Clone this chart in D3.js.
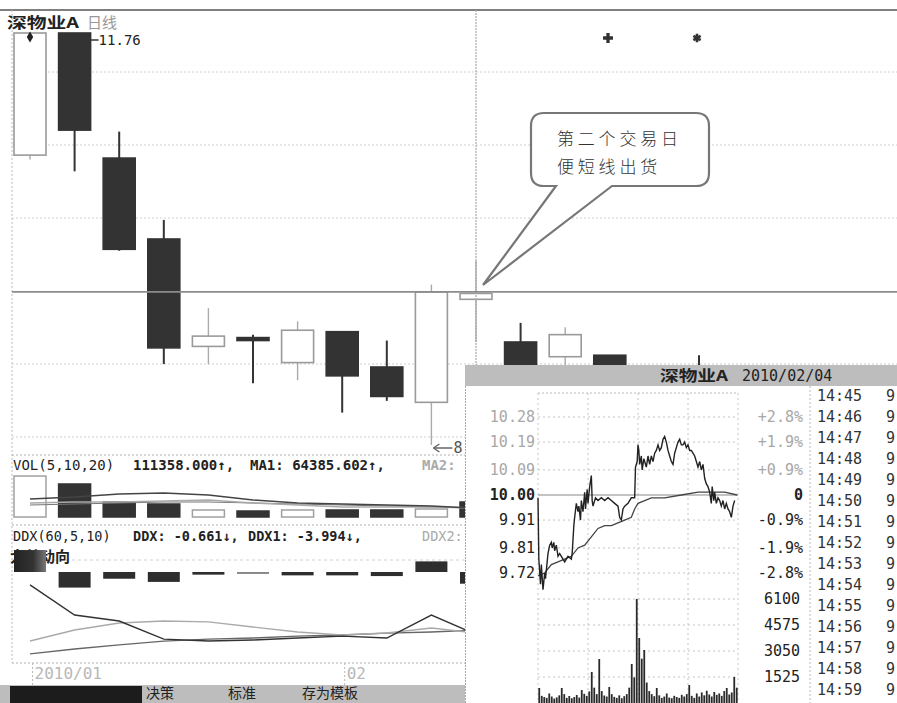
<!DOCTYPE html>
<html><head><meta charset="utf-8">
<script src="https://cdn.jsdelivr.net/npm/d3@7/dist/d3.min.js"></script>
<style>html,body{margin:0;padding:0;background:#fff;overflow:hidden}svg{display:block}</style>
</head><body><svg id="chart" width="897" height="703"></svg>
<script>
// ---------------- DATA ----------------
const stockName = "深物业A";
const periodName = "日线";
const dates  = ["2010/01/21","2010/01/22","2010/01/25","2010/01/26","2010/01/27","2010/01/28","2010/01/29","2010/02/01","2010/02/02","2010/02/03","2010/02/04","2010/02/05","2010/02/08","2010/02/09","2010/02/10","2010/02/11"];
const opens  = [10.93,11.76,10.91,10.36,9.63,9.69,9.52,9.73,9.49,9.25,9.95,9.66,9.56,9.57,9.40,9.48];
const highs  = [11.76,11.76,11.09,10.49,9.89,9.71,9.80,9.73,9.67,10.05,10.21,9.79,9.76,9.57,9.45,9.57];
const lows   = [10.90,10.82,10.28,9.51,9.51,9.38,9.40,9.18,9.26,8.96,9.66,9.45,9.40,9.35,9.25,9.35];
const closes = [11.76,11.10,10.29,9.62,9.70,9.67,9.74,9.43,9.29,10.00,9.99,9.50,9.71,9.45,9.30,9.40];
const highLabel = "11.76";
const lowLabel = "8";

const volumes = [304000,245000,111000,96500,52000,44500,52000,52000,52000,59400,111358];
const volMA1  = [133600,148500,170800,178200,163300,126200,103900,96500,89100,81700,64386];
const volMA2  = [103900,111400,111400,118800,126200,103900,89100,74200,74200,74200,66800];
const volMA3  = [89100,96500,103900,111400,111400,103900,96500,89100,81700,74200,66800];

const ddxBars = [1.24,-0.88,-0.38,-0.56,-0.15,-0.11,-0.19,-0.19,-0.23,0.60,-0.661];
const ddx1 = [-0.73,-2.43,-2.77,-3.79,-3.90,-3.84,-3.73,-3.62,-3.73,-2.43,-3.52];
const ddx2 = [-3.90,-3.28,-2.88,-2.77,-2.82,-3.11,-3.39,-3.56,-3.45,-3.16,-3.45];
const ddx3 = [-4.63,-4.35,-4.12,-3.90,-3.79,-3.73,-3.62,-3.56,-3.45,-3.39,-3.28];

const monthStart  = [0,7];
const monthLabels = ["2010/01","02"];
const toolbarLabels = ["决策","标准","存为模板"];
const calloutLines = ["第二个交易日","便短线出货"];

// intraday (2010/02/04)
const popupDate = "2010/02/04";
const prevClose = 10.00;
const priceTicks = [10.28,10.19,10.09,10.00,9.91,9.81,9.72];
const pctTicks   = ["+2.8%","+1.9%","+0.9%","0","-0.9%","-1.9%","-2.8%"];
const minVolTicks = [6100,4575,3050,1525];
const tickTimes = ["14:45","14:46","14:47","14:48","14:49","14:50","14:51","14:52","14:53","14:54","14:55","14:56","14:57","14:58","14:59"];
const tickPriceHead = "9";
const minutes = [0,1,3,4,6,8,9,11,12,14,16,17,19,20,22,24,26,28,32,36,40,41,43,44,46,48,49,51,52,54,56,57,59,60,62,64,65,66,69,72,76,80,84,88,92,96,98,100,102,104,108,112,116,117,119,120,121,122,124,125,127,128,130,132,134,136,138,140,142,144,146,148,150,152,154,156,158,160,162,164,166,168,170,172,174,176,178,180,182,184,186,188,190,192,194,196,198,200,202,204,206,208,209,211,212,214,216,218,220,222,224,226,228,230,232,234,236];
const prices  = [9.99,9.77,9.68,9.75,9.66,9.72,9.70,9.76,9.79,9.82,9.83,9.81,9.83,9.80,9.82,9.78,9.79,9.78,9.76,9.78,9.77,9.79,9.89,9.92,9.97,9.94,9.96,9.91,9.98,9.94,10.01,9.95,10.02,9.97,10.03,10.07,9.98,9.96,9.99,9.98,9.99,9.98,9.99,9.98,9.97,9.96,9.92,9.91,9.95,9.96,9.97,9.99,9.99,10.10,10.12,10.18,10.16,10.11,10.14,10.09,10.13,10.12,10.10,10.14,10.11,10.14,10.12,10.15,10.16,10.18,10.16,10.17,10.20,10.21,10.19,10.16,10.14,10.12,10.11,10.15,10.17,10.19,10.20,10.18,10.18,10.19,10.17,10.18,10.16,10.16,10.15,10.14,10.12,10.10,10.12,10.09,10.11,10.06,10.04,10.03,10.01,9.97,10.03,9.98,10.01,9.97,9.99,9.98,9.96,9.98,9.95,9.97,9.95,9.94,9.92,9.96,9.98];
const avgMinutes = [0,8,16,24,32,40,48,56,64,72,80,88,96,104,112,116,120,128,136,152,172,192,212,224,239];
const avgPrices  = [9.71,9.72,9.75,9.76,9.77,9.78,9.81,9.82,9.85,9.88,9.89,9.89,9.90,9.91,9.92,9.95,9.97,9.98,9.99,9.99,10.00,10.01,10.01,10.01,10.00];
const minuteVolumes = [880,420,350,300,560,380,260,330,450,880,
  520,300,410,280,350,470,320,760,540,420,
  680,1818,900,520,2580,700,440,380,938,520,
  360,300,450,280,400,520,900,2287,1500,6100,
  3812,2600,3108,1200,700,520,400,880,450,300,
  380,560,320,280,420,350,300,480,380,520,
  1055,420,300,560,380,620,450,720,500,380,
  650,480,560,420,700,880,500,620,1525,900];

// ---------------- DRAW ----------------
const W = 897, H = 703;
const mono = "'DejaVu Sans Mono','Liberation Mono',monospace";
const cjk = "'Noto Sans CJK SC','Noto Sans',sans-serif";
const svg = d3.select("#chart");
svg.append("rect").attr("width",W).attr("height",H).attr("fill","#fff");

const x = d3.scaleLinear().domain([0,15]).range([30,699]);
const y = d3.scaleLinear().domain([8.96,11.76]).range([445,33]);
const cw = 32;

function hline(g,x1,x2,yy,col,dash,w){g.append("line").attr("x1",x1).attr("x2",x2).attr("y1",yy).attr("y2",yy).attr("stroke",col).attr("stroke-width",w||1).attr("stroke-dasharray",dash||null);}
function vline(g,xx,y1,y2,col,dash,w){g.append("line").attr("x1",xx).attr("x2",xx).attr("y1",y1).attr("y2",y2).attr("stroke",col).attr("stroke-width",w||1).attr("stroke-dasharray",dash||null);}

const main = svg.append("g");
// frame and grid
hline(main,0,W,10,"#555",null,1.6);
vline(main,12,10,663,"#bbb","2,2");
[72,145,218,364,437].forEach(v=>hline(main,12,W,v,"#d0d0d0","2,2"));
hline(main,12,W,455,"#b0b0b0","2,2");
hline(main,12,W,525,"#b0b0b0","2,2");
hline(main,12,W,560,"#d0d0d0","3,3");
hline(main,12,W,663,"#b0b0b0","2,2");

// title
main.append("text").attr("x",7).attr("y",23).attr("dy","0.35em").attr("font-family",cjk).attr("font-size",15).attr("font-weight",700).attr("fill","#222").attr("textLength",72).attr("lengthAdjust","spacingAndGlyphs").text(stockName);
main.append("text").attr("x",87).attr("y",23).attr("dy","0.35em").attr("font-family",cjk).attr("font-size",15).attr("fill","#999").text(periodName);

// candles
const cg = main.append("g");
dates.forEach((d,i)=>{
  const up = closes[i] >= opens[i];
  const cx = x(i);
  const top = y(Math.max(opens[i],closes[i])), bot = y(Math.min(opens[i],closes[i]));
  cg.append("line").attr("x1",cx).attr("x2",cx).attr("y1",y(highs[i])).attr("y2",y(lows[i]))
    .attr("stroke", up ? "#aaa" : "#333").attr("stroke-width",up?1.4:2);
  cg.append("rect").attr("x",cx-cw/2).attr("y",top).attr("width",cw).attr("height",Math.max(2,bot-top))
    .attr("fill", up ? "#fff" : "#333").attr("stroke", up ? "#9a9a9a" : "#333").attr("stroke-width",1.6);
});
// crosshair
vline(main,x(10),10,365,"#a8a8a8","2,1",1.2);
hline(main,12,W,y(closes[9]),"#8c8c8c",null,1.8);
// diamond & high label
main.append("path").attr("d",d3.symbol(d3.symbolDiamond,36)()).attr("transform",`translate(${x(0)},${y(highs[0])+4})`).attr("fill","#222");
hline(main,x(1)+cw/2,x(1)+cw/2+8,y(highs[1])+7,"#333",null,1.5);
main.append("text").attr("x",x(1)+cw/2+8).attr("y",y(highs[1])+7).attr("dy","0.35em").attr("font-family",mono).attr("font-size",14).attr("fill","#222").text(highLabel);
// low label arrow
{
  const ly = y(lows[9])+3, lx = x(9)+2;
  hline(main,lx,lx+19,ly,"#666",null,1.5);
  main.append("path").attr("d",`M${lx},${ly} l6,-4 M${lx},${ly} l6,4`).attr("stroke","#666").attr("stroke-width",1.5).attr("fill","none");
  main.append("text").attr("x",lx+20).attr("y",ly).attr("dy","0.35em").attr("font-family",mono).attr("font-size",15).attr("fill","#555").text(lowLabel);
}

// volume panel
const yv = d3.scaleLinear().domain([0,111358]).range([517,502]);
const vg = main.append("g");
volumes.forEach((v,i)=>{
  const dark = i===0 ? closes[i]<opens[i] : closes[i]<closes[i-1];
  vg.append("rect").attr("x",x(i)-cw/2).attr("y",yv(v)).attr("width",cw).attr("height",yv(0)-yv(v))
    .attr("fill",dark?"#333":"#fff").attr("stroke",dark?"#333":"#a0a0a0").attr("stroke-width",1.5);
});
const lv = d3.line().x((d,i)=>x(i)).y(d=>yv(d));
vg.append("path").attr("d",lv(volMA3)).attr("fill","none").attr("stroke","#777").attr("stroke-width",1.2);
vg.append("path").attr("d",lv(volMA2)).attr("fill","none").attr("stroke","#aaa").attr("stroke-width",1.6);
vg.append("path").attr("d",lv(volMA1)).attr("fill","none").attr("stroke","#444").attr("stroke-width",1.5);
// vol header
{
  const t = main.append("text").attr("y",465).attr("dy","0.35em").attr("font-family",mono).attr("font-size",14).attr("font-weight",700).attr("fill","#222");
  t.append("tspan").attr("x",13).attr("font-weight",400).text("VOL(5,10,20)");
  t.append("tspan").attr("x",133).text(d3.format(".3f")(volumes[volumes.length-1])+"↑,");
  t.append("tspan").attr("x",250).text("MA1: "+d3.format(".3f")(64385.602)+"↑,");
  t.append("tspan").attr("x",422).attr("fill","#aaa").text("MA2: 8");
}

// DDX panel
const yd = d3.scaleLinear().domain([0,-0.661]).range([572,583.7]);
const dg = main.append("g");
dg.append("text").attr("x",10).attr("y",557).attr("dy","0.35em").attr("font-family",cjk).attr("font-size",15).attr("font-weight",700).attr("fill","#222").text("大单动向");
const grad = svg.append("defs").append("linearGradient").attr("id","gb").attr("x1",0).attr("x2",1);
grad.append("stop").attr("offset","0").attr("stop-color","#222");
grad.append("stop").attr("offset","0.6").attr("stop-color","#333");
grad.append("stop").attr("offset","1").attr("stop-color","#777");
ddxBars.forEach((v,i)=>{
  const y0 = Math.min(yd(v),yd(0)), h = Math.abs(yd(v)-yd(0));
  dg.append("rect").attr("x",x(i)-cw/2).attr("y",y0).attr("width",cw).attr("height",h)
    .attr("fill", i===0 ? "url(#gb)" : (i===5 ? "#888" : "#2e2e2e"));
});
const ld = d3.line().x((d,i)=>x(i)).y(d=>yd(d));
dg.append("path").attr("d",ld(ddx3)).attr("fill","none").attr("stroke","#666").attr("stroke-width",1.3);
dg.append("path").attr("d",ld(ddx2)).attr("fill","none").attr("stroke","#aaa").attr("stroke-width",1.4);
dg.append("path").attr("d",ld(ddx1)).attr("fill","none").attr("stroke","#333").attr("stroke-width",1.4);
{
  const t = main.append("text").attr("y",536).attr("dy","0.35em").attr("font-family",mono).attr("font-size",13.5).attr("font-weight",700).attr("fill","#222");
  t.append("tspan").attr("x",13).attr("font-weight",400).text("DDX(60,5,10)");
  t.append("tspan").attr("x",133).text("DDX: "+ddxBars[ddxBars.length-1].toFixed(3)+"↓,");
  t.append("tspan").attr("x",248).text("DDX1: -3.994↓,");
  t.append("tspan").attr("x",422).attr("fill","#aaa").attr("font-weight",400).text("DDX2: -3");
}

// date axis
{
  const ax = main.append("g").attr("transform","translate(0,663)")
    .call(d3.axisBottom(x).tickValues(monthStart).tickFormat((d,i)=>monthLabels[i]).tickSize(22).tickPadding(0));
  ax.select(".domain").remove();
  ax.selectAll(".tick line").attr("stroke","#bbb").attr("stroke-dasharray","2,2").attr("transform","translate(2,0)");
  ax.selectAll(".tick text").attr("text-anchor","start").attr("x",4).attr("y",10).attr("dy","0.35em").attr("font-family",mono).attr("font-size",16).attr("fill","#b8b8b8");
}

// toolbar
main.append("rect").attr("x",0).attr("y",685).attr("width",466).attr("height",18).attr("fill","#bdbdbd");
main.append("rect").attr("x",10).attr("y",686).attr("width",132).attr("height",17).attr("fill","#1c1c1c");
[146,228,302].forEach((tx,i)=>{
  main.append("text").attr("x",tx).attr("y",693).attr("dy","0.35em").attr("font-family",cjk).attr("font-size",14).attr("fill","#222").text(toolbarLabels[i]);
});

// top markers
main.append("path").attr("d",d3.symbol(d3.symbolCross,55)()).attr("transform","translate(608,38)").attr("fill","#333");
main.append("path").attr("d",d3.symbol(d3.symbolAsterisk,50)()).attr("transform","translate(697,38)").attr("fill","none").attr("stroke","#333").attr("stroke-width",2.6);

// callout
{
  const x0=531,y0=113,x1=709,y1=186,r=13;
  const p = d3.path();
  p.moveTo(x0+r,y0); p.lineTo(x1-r,y0); p.quadraticCurveTo(x1,y0,x1,y0+r);
  p.lineTo(x1,y1-r); p.quadraticCurveTo(x1,y1,x1-r,y1);
  p.lineTo(612,y1); p.lineTo(483,285); p.lineTo(556,y1);
  p.lineTo(x0+r,y1); p.quadraticCurveTo(x0,y1,x0,y1-r);
  p.lineTo(x0,y0+r); p.quadraticCurveTo(x0,y0,x0+r,y0); p.closePath();
  main.append("path").attr("d",p.toString()).attr("fill","#fff").attr("stroke","#777").attr("stroke-width",2.2);
  calloutLines.forEach((s,i)=>{
    main.append("text").attr("x",557).attr("y",139+i*28).attr("dy","0.35em").attr("font-family",cjk).attr("font-size",17).attr("font-weight",300).attr("letter-spacing",3.8).attr("fill","#333").text(s);
  });
}

// ---------------- POPUP (intraday) ----------------
const pop = svg.append("g");
pop.append("rect").attr("x",465).attr("y",365).attr("width",W-465).attr("height",H-365).attr("fill","#fff");
vline(pop,465.5,365,H,"#aaa","2,1");
pop.append("rect").attr("x",465).attr("y",365).attr("width",W-465).attr("height",21).attr("fill","#bdbdbd");
pop.append("text").attr("x",660).attr("y",376).attr("dy","0.35em").attr("font-family",cjk).attr("font-size",15).attr("font-weight",700).attr("fill","#222").attr("textLength",68).attr("lengthAdjust","spacingAndGlyphs").text(stockName);
pop.append("text").attr("x",742).attr("y",376).attr("dy","0.35em").attr("font-family",mono).attr("font-size",15).attr("fill","#222").text(popupDate);

const xm = d3.scaleLinear().domain([0,240]).range([538,738]);
const yp = d3.scaleLinear().domain([9.72,10.28]).range([573,417]);
const ymv = d3.scaleLinear().domain([0,6100]).range([703,599]);

// grid
hline(pop,538,738,393,"#bbb","2,2");
priceTicks.forEach(t=>{ if(t!==prevClose) hline(pop,538,738,yp(t),"#c4c4c4","2,3"); });
minVolTicks.forEach(t=>hline(pop,538,738,ymv(t),"#c4c4c4","2,3"));
[0,60,120,180,240].forEach(m=>vline(pop,xm(m),393,H,"#c4c4c4","2,3"));
hline(pop,538,738,yp(prevClose),"#888",null,1.2);
vline(pop,810,386,H,"#bbb","2,2");

// labels
function styleAxis(a,col){ a.select(".domain").remove(); a.selectAll(".tick line").remove();
  a.selectAll(".tick text").attr("font-family",mono).attr("font-size",15).attr("fill",col); }
{
  const a = pop.append("g").attr("transform","translate(535,0)").call(d3.axisLeft(yp).tickValues(priceTicks).tickFormat(d3.format(".2f")).tickSize(0).tickPadding(0));
  styleAxis(a,"#333");
  a.selectAll(".tick text").attr("fill",d=>d>prevClose?"#a8a8a8":"#222").attr("font-weight",d=>d===prevClose?700:400);
  const b = pop.append("g").attr("transform","translate(803,0)").call(d3.axisLeft(yp).tickValues(priceTicks).tickFormat((d,i)=>pctTicks[i]).tickSize(0).tickPadding(0));
  styleAxis(b,"#333");
  b.selectAll(".tick text").attr("fill",d=>d>prevClose?"#a8a8a8":"#222").attr("font-weight",d=>d===prevClose?700:400);
  const c = pop.append("g").attr("transform","translate(800,0)").call(d3.axisLeft(ymv).tickValues(minVolTicks).tickFormat(d3.format("d")).tickSize(0).tickPadding(0));
  styleAxis(c,"#222");
  const tScale = d3.scalePoint().domain(tickTimes).range([396,690]);
  const tt = pop.append("g").attr("transform","translate(815,0)").call(d3.axisRight(tScale).tickSize(0).tickPadding(2));
  styleAxis(tt,"#333");
  tickTimes.forEach(t=>{
    pop.append("text").attr("x",886).attr("y",tScale(t)).attr("dy","0.32em").attr("font-family",mono).attr("font-size",15).attr("fill","#333").text(tickPriceHead);
  });
}

// volume bars
minuteVolumes.forEach((v,i)=>{
  const mx = xm(i*3+1.5);
  pop.append("line").attr("x1",mx).attr("x2",mx).attr("y1",ymv(0)).attr("y2",ymv(v)).attr("stroke","#2a2a2a").attr("stroke-width",1.8);
});
// average & price lines
const avgLine = d3.line().x((d,i)=>xm(avgMinutes[i])).y(d=>yp(d));
pop.append("path").attr("d",avgLine(avgPrices)).attr("fill","none").attr("stroke","#444").attr("stroke-width",1.3);
const priceLine = d3.line().x((d,i)=>xm(minutes[i])).y(d=>yp(d));
pop.append("path").attr("d",priceLine(prices)).attr("fill","none").attr("stroke","#222").attr("stroke-width",1.4);
</script>
</body></html>
